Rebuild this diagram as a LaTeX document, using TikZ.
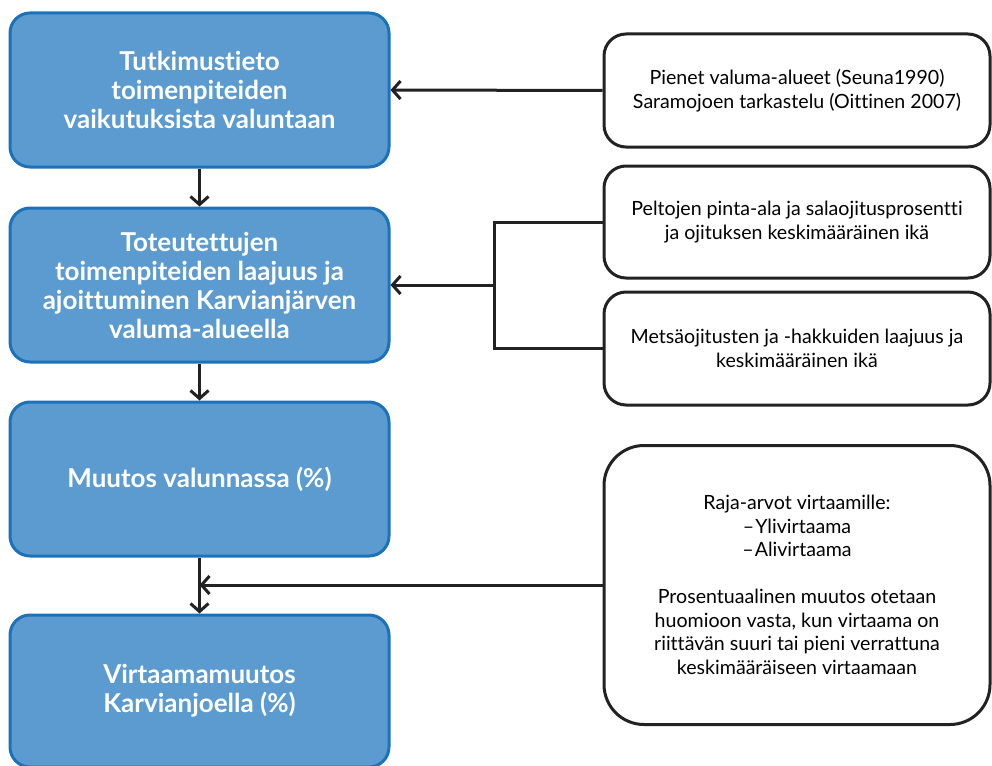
\documentclass[tikz,border=0pt]{standalone}
\usepackage{fontspec}
\setmainfont{Lato}[Ligatures=NoCommon]
\usetikzlibrary{arrows.meta}
\definecolor{boxfill}{HTML}{5B9BD0}
\definecolor{boxedge}{HTML}{1B72B8}
\definecolor{lineblk}{HTML}{222222}
\tikzset{
  bluebox/.style={draw=boxedge, fill=boxfill, line width=3pt, rounded corners=20pt,
    minimum width=379pt, align=center, text=white, inner sep=0pt,
    font=\fontsize{26}{29}\selectfont\bfseries},
  whitebox/.style={draw=lineblk, fill=white, line width=3pt, rounded corners=22pt,
    minimum width=386pt, align=center, text=black, inner sep=0pt,
    font=\fontsize{19.6}{23.5}\selectfont},
  conn/.style={draw=lineblk, line width=3pt},
  arr/.style={conn, -{Straight Barb[length=8pt,width=18pt,line width=3pt]}}
}
\begin{document}
\begin{tikzpicture}[x=1pt,y=-1pt]
\useasboundingbox (0,0) rectangle (992,765);
\node[bluebox, minimum height=154pt] (b1) at (199.5,90) {Tutkimustieto\\toimenpiteiden\\vaikutuksista valuntaan};
\node[bluebox, minimum height=154pt] (b2) at (199.5,285) {Toteutettujen\\toimenpiteiden laajuus ja\\ajoittuminen Karvianjärven\\valuma-alueella};
\node[bluebox, minimum height=154pt] (b3) at (199.5,479) {Muutos valunnassa (\%)};
\node[bluebox, minimum height=152pt] (b4) at (199.5,691) {Virtaamamuutos\\Karvianjoella (\%)};

\node[whitebox, minimum height=113pt] (r1) at (797,90.5) {Pienet valuma-alueet (Seuna1990)\\Saramojoen tarkastelu (Oittinen 2007)};
\node[whitebox, minimum height=112pt] (r2) at (797,222) {Peltojen pinta-ala ja salaojitusprosentti\\ja ojituksen keskimääräinen ikä};
\node[whitebox, minimum height=113pt] (r3) at (797,348.5) {Metsäojitusten ja -hakkuiden laajuus ja\\keskimääräinen ikä};
\node[whitebox, minimum height=279pt, rounded corners=40pt] (r4) at (797,585) {Raja-arvot virtaamille:\\–\kern1pt Ylivirtaama\\–\kern1pt Alivirtaama\\[23.5pt]Prosentuaalinen muutos otetaan\\huomioon vasta, kun virtaama on\\riittävän suuri tai pieni verrattuna\\keskimääräiseen virtaamaan};

\draw[arr] (r1.west) -- (b1.east);
\draw[arr] (b1.south) -- (b2.north);
\draw[arr] (b2.south) -- (b3.north);
\draw[arr] (b3.south) -- (b4.north);
\coordinate (j) at (494,285);
\draw[conn] (r2.west) -| (j) |- (r3.west);
\draw[arr] (j) -- (b2.east);
\coordinate (m) at (b3.south |- r4.west);
\draw[arr] (r4.west) -- (m);
\end{tikzpicture}
\end{document}
